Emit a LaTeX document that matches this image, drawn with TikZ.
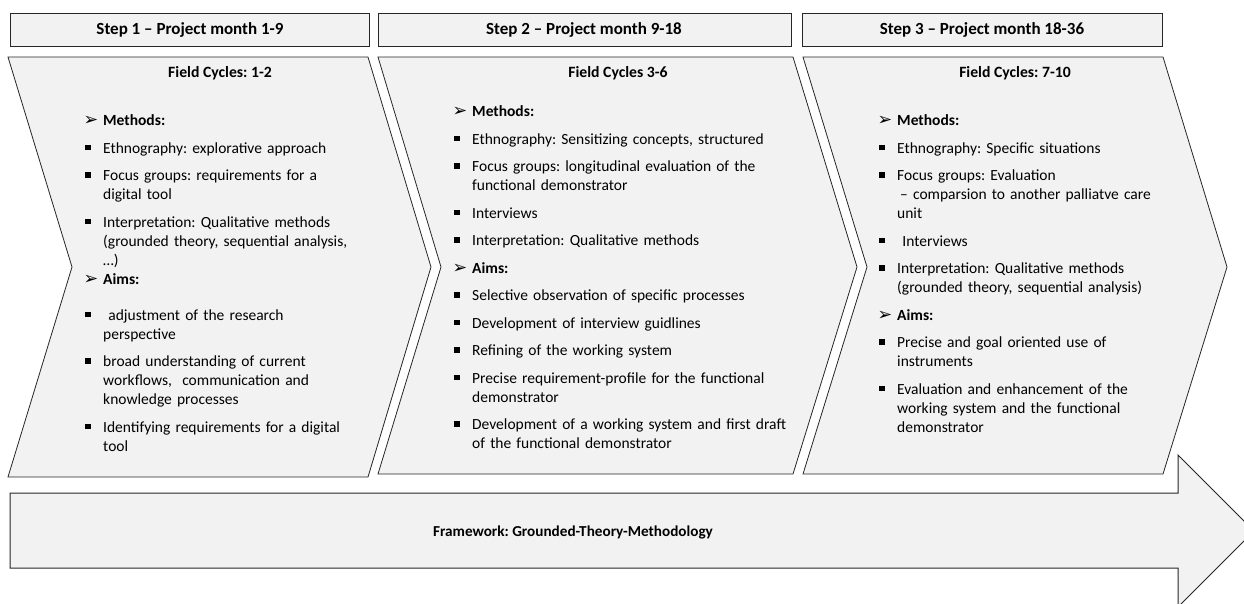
\documentclass[tikz,border=0pt]{standalone}
\usepackage{fontspec}
\setmainfont{Carlito}
\newfontfamily\symfont{DejaVu Sans}
\frenchspacing

% list markers
\newcommand{\sqbul}{\raisebox{2.8pt}{\rule{5.8pt}{5.8pt}}}
\newcommand{\arrbul}{{\symfont\fontsize{17.5}{17.5}\selectfont ➢}}
\newcommand{\nl}{\newline}
\newcommand{\hd}[2][8.5pt]{\par\vspace{#1}\noindent\hangindent=18pt\hangafter=1\makebox[18pt][l]{\hspace*{-1.5pt}\arrbul}\strut\textbf{#2}}
\newcommand{\itm}[2][8.5pt]{\par\vspace{#1}\noindent\hangindent=18pt\hangafter=1\makebox[18pt][l]{\sqbul}\strut#2}

\begin{document}
\begin{tikzpicture}[x=1pt,y=-1pt,line join=miter,
  every node/.style={font=\fontsize{15.5}{19}\selectfont},
  box/.style={draw=black!85,line width=1pt,fill=black!5},
  title/.style={font=\fontsize{15.7}{19}\selectfont\bfseries},
  steptitle/.style={font=\fontsize{17}{19}\selectfont\bfseries},
  list/.style={anchor=north west,inner sep=0pt,text width=370pt,align=left}]
\useasboundingbox (0,0) rectangle (1244,603);

% project steps
\draw[box] (10,13) rectangle (369,46);
\draw[box] (378,13) rectangle (791,46);
\draw[box] (802,13) rectangle (1162,46);
\node[steptitle] (step1) at (190,30) {Step 1 – Project month 1-9};
\node[steptitle] (step2) at (584,30) {Step 2 – Project month 9-18};
\node[steptitle] (step3) at (982,30) {Step 3 – Project month 18-36};

% field cycle chevrons
\draw[box,line width=0.8pt] (8,57) -- (368,57) -- (431,267) -- (368,477) -- (8,477) -- (72,267) -- cycle;
\draw[box,line width=0.8pt] (378,57) -- (793,57) -- (857,267) -- (793,474) -- (378,474) -- (441,267) -- cycle;
\draw[box,line width=0.8pt] (803,57) -- (1163,57) -- (1227,267) -- (1163,474) -- (803,474) -- (867,267) -- cycle;
\node[title] (cyc1) at (220,73) {Field Cycles: 1-2};
\node[title] (cyc2) at (618,73) {Field Cycles 3-6};
\node[title] (cyc3) at (1015,73) {Field Cycles: 7-10};

\node[list] (list1) at (85,106.5) {%
  \hd[0pt]{Methods:}
  \itm{Ethnography: explorative approach}
  \itm{Focus groups: requirements for a\nl digital tool}
  \itm{Interpretation: Qualitative methods\nl (grounded theory, sequential analysis,\nl …)}
  \hd[0pt]{Aims:}
  \itm[17pt]{\ adjustment of the research\nl perspective}
  \itm{broad understanding of current\nl workflows,\ \ communication and\nl knowledge processes}
  \itm{Identifying requirements for a digital\nl tool}\par};

\node[list] (list2) at (454,97.5) {%
  \hd[0pt]{Methods:}
  \itm{Ethnography: Sensitizing concepts, structured}
  \itm{Focus groups: longitudinal evaluation of the\nl functional demonstrator}
  \itm{Interviews}
  \itm{Interpretation: Qualitative methods}
  \hd{Aims:}
  \itm{Selective observation of specific processes}
  \itm{Development of interview guidlines}
  \itm{Refining of the working system}
  \itm{Precise requirement-profile for the functional\nl demonstrator}
  \itm{Development of a working system and first draft\nl of the functional demonstrator}\par};

\node[list] (list3) at (879,106.5) {%
  \hd[0pt]{Methods:}
  \itm{Ethnography: Specific situations}
  \itm{Focus groups: Evaluation\nl \hspace*{3pt}– comparsion to another palliatve care\nl unit}
  \itm{\ Interviews}
  \itm{Interpretation: Qualitative methods\nl (grounded theory, sequential analysis)}
  \hd{Aims:}
  \itm{Precise and goal oriented use of\nl instruments}
  \itm{Evaluation and enhancement of the\nl working system and the functional\nl demonstrator}\par};

% overall framework arrow
\draw[box] (10,493) -- (1178,493) -- (1178,455) -- (1254,531) -- (1178,607) -- (1178,568) -- (10,568) -- cycle;
\node[title,font=\fontsize{15.2}{19}\selectfont\bfseries] (frame) at (573,532) {Framework: Grounded-Theory-Methodology};
\end{tikzpicture}
\end{document}
